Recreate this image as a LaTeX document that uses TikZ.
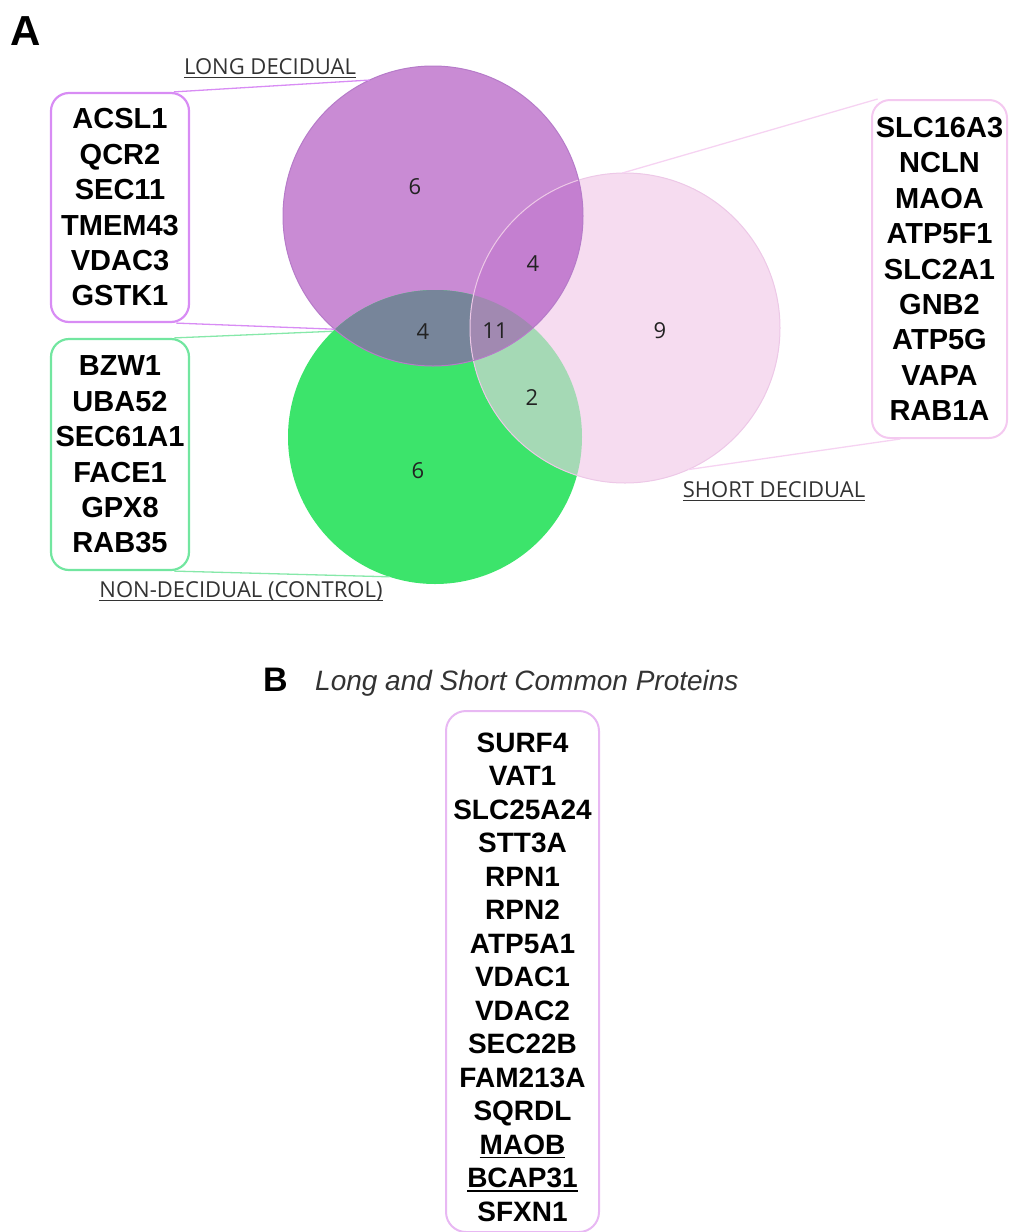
\documentclass[tikz,border=0pt]{standalone}
\usepackage{fontspec}
\setmainfont{Liberation Sans}
\newfontfamily\opensans{Open Sans}

\definecolor{longfill}{HTML}{C98BD4}
\definecolor{ctrlfill}{HTML}{3CE46B}
\definecolor{shortfill}{HTML}{F6DCF0}
\definecolor{lnfill}{HTML}{77859A}
\definecolor{lsfill}{HTML}{C47FD0}
\definecolor{nsfill}{HTML}{A5D9B5}
\definecolor{lnsfill}{HTML}{A189B1}
\definecolor{longline}{HTML}{B67BC9}
\definecolor{shortline}{HTML}{EDC8E7}
\definecolor{lbox}{HTML}{D88CF4}
\definecolor{cbox}{HTML}{72E6A0}
\definecolor{sbox}{HTML}{F4C9F0}
\definecolor{bbox}{HTML}{E8B8F3}
\definecolor{llink}{HTML}{D88CF4}
\definecolor{clink}{HTML}{86E8A9}
\definecolor{slink}{HTML}{F6D3F2}
\definecolor{numgray}{HTML}{222222}
\definecolor{labgray}{HTML}{333333}
\definecolor{ttl}{HTML}{333333}

\newcommand{\undl}[1]{\leavevmode\vtop{\hbox{\raisebox{0pt}[\height][0pt]{#1}}\kern2.6pt\hrule height 1.5pt}}

\begin{document}
\begin{tikzpicture}[x=1pt, y=-1pt,
    ring/.style={circle, inner sep=0pt, outer sep=0pt},
    num/.style={font=\opensans\fontsize{22}{22}\selectfont, text=numgray},
    tag/.style={font=\opensans\fontsize{22}{22}\selectfont, text=labgray, anchor=base, inner sep=0pt},
    genes/.style={rounded corners=18pt, line width=2.2pt, align=center, inner sep=0pt,
      font=\bfseries\fontsize{29}{35.4}\selectfont},
    link/.style={line width=1.3pt}]
  \useasboundingbox (0,0) rectangle (1009,1232);

  % A: uc kume (venn)
  \node[font=\bfseries\fontsize{42}{42}\selectfont, anchor=base west, inner sep=0pt] (alabel) at (10,45) {A};
  \node[ring, minimum size=300pt] (long) at (433,216) {};
  \node[ring, minimum size=294pt] (ctrl) at (435,437) {};
  \node[ring, minimum size=310pt] (short) at (625,328) {};

  \fill[longfill] (long.center) circle (150);
  \fill[ctrlfill] (ctrl.center) circle (147);
  \fill[shortfill] (short.center) circle (155);
  \begin{scope}
    \clip (ctrl.center) circle (147);
    \fill[nsfill] (short.center) circle (155);
  \end{scope}
  \begin{scope}
    \clip (long.center) circle (150);
    \fill[lnfill] (ctrl.center) circle (147);
    \fill[lsfill] (short.center) circle (155);
    \clip (ctrl.center) circle (147);
    \fill[lnsfill] (short.center) circle (155);
  \end{scope}
  \draw[shortline, line width=1pt] (short.center) circle (155);
  \draw[longline, line width=1pt] (long.center) circle (150);

  % bolge sayilari
  \node[num] (nl) at (415,187) {6};
  \node[num] (nls) at (533,264) {4};
  \node[num] (nln) at (423,332) {4};
  \node[num] (nall) at (495,331) {11};
  \node[num] (ns) at (660,331) {9};
  \node[num] (nns) at (532,398) {2};
  \node[num] (nc) at (418,471) {6};

  % kume adlari
  \node[tag] (longtag) at (270,74) {\undl{LONG DECIDUAL}};
  \node[tag] (ctrltag) at (241,597) {\undl{NON-DECIDUAL (CONTROL)}};
  \node[tag] (shorttag) at (774,497) {\undl{SHORT DECIDUAL}};

  % protein listeleri
  \node[genes, draw=lbox, minimum width=138pt, minimum height=229pt] (longlist) at (120,207.5)
    {ACSL1\\QCR2\\SEC11\\TMEM43\\VDAC3\\GSTK1};
  \node[genes, draw=cbox, minimum width=138pt, minimum height=231pt] (ctrllist) at (120,454.5)
    {BZW1\\UBA52\\SEC61A1\\FACE1\\GPX8\\RAB35};
  \node[genes, draw=sbox, line width=2pt, minimum width=135pt, minimum height=338pt] (shortlist) at (939.5,269)
    {SLC16A3\\NCLN\\MAOA\\ATP5F1\\SLC2A1\\GNB2\\ATP5G\\VAPA\\RAB1A};

  \draw[link, llink] (longlist.65) -- (long.115);
  \draw[link, llink] (longlist.-64) -- (long.229);
  \draw[link, clink] (ctrllist.65) -- (ctrl.134);
  \draw[link, clink] (ctrllist.-65) -- (ctrl.252);
  \draw[link, slink] (shortlist.110) -- (short.91);
  \draw[link, slink] (shortlist.257) -- (short.294);

  % B: ortak proteinler
  \node[font=\bfseries\fontsize{34}{34}\selectfont, anchor=base west, inner sep=0pt] (blabel) at (263,691) {B};
  \node[font=\itshape\fontsize{28}{28}\selectfont, text=ttl, anchor=base west, inner sep=0pt] (btitle) at (315,690)
    {Long and Short Common Proteins};
  \node[genes, draw=bbox, line width=2pt, rounded corners=20pt, minimum width=153pt, minimum height=521pt,
    font=\bfseries\fontsize{28}{33.5}\selectfont] (commonlist) at (522.5,971.5)
    {\rule{0pt}{31pt}SURF4\\VAT1\\SLC25A24\\STT3A\\RPN1\\RPN2\\ATP5A1\\VDAC1\\VDAC2\\SEC22B\\FAM213A\\SQRDL\\\undl{MAOB}\\\undl{BCAP31}\\SFXN1};
\end{tikzpicture}
\end{document}
